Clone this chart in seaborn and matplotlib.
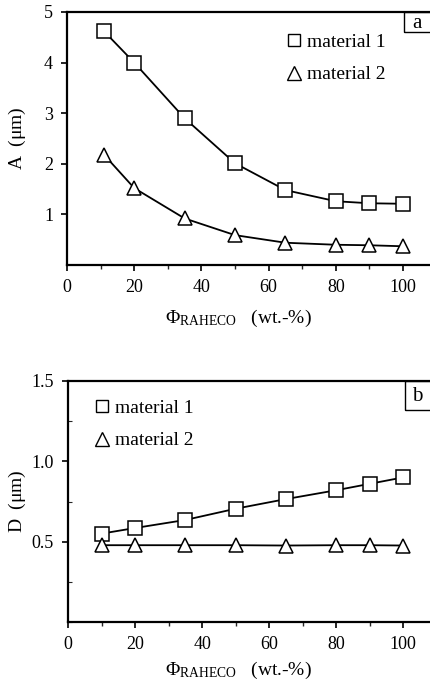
import matplotlib
matplotlib.use("Agg")
import matplotlib.pyplot as plt
import seaborn as sns
import pandas as pd
from matplotlib.lines import Line2D
from matplotlib.patches import Rectangle
from matplotlib.ticker import MultipleLocator, FixedLocator

# ---- data ----
phi_a = [11, 20, 35, 50, 65, 80, 90, 100]
A_mat1 = [4.62, 4.00, 2.90, 2.01, 1.48, 1.26, 1.22, 1.21]
A_mat2 = [2.18, 1.52, 0.92, 0.59, 0.44, 0.40, 0.39, 0.37]

phi_b = [10, 20, 35, 50, 65, 80, 90, 100]
D_mat1 = [0.55, 0.585, 0.635, 0.705, 0.765, 0.82, 0.86, 0.90]
D_mat2 = [0.478, 0.478, 0.478, 0.478, 0.476, 0.478, 0.478, 0.476]

series_labels = ["material 1", "material 2"]
xticks = [0, 20, 40, 60, 80, 100]
yticks_a = [1, 2, 3, 4, 5]
yticks_b = [0.5, 1.0, 1.5]

sns.set_theme(style="white")
plt.rcParams["font.family"] = ["Liberation Serif", "DejaVu Serif"]
plt.rcParams["mathtext.fontset"] = "custom"
plt.rcParams["mathtext.rm"] = "Liberation Serif"
plt.rcParams["mathtext.it"] = "Liberation Serif:italic"

W, H = 431, 684
fig = plt.figure(figsize=(W / 100, H / 100), dpi=100)

def px_axes(l, t, r, b):
    return fig.add_axes([l / W, 1 - b / H, (r - l) / W, (b - t) / H])

ax_a = px_axes(67, 12, 431, 265)
ax_b = px_axes(68, 381, 431, 622)

mk = dict(markersize=9.5, markerfacecolor="white", markeredgecolor="black",
          markeredgewidth=1.1, color="black", linewidth=1.3)

def draw(ax, x, y1, y2):
    df1 = pd.DataFrame({"x": x, "y": y1})
    df2 = pd.DataFrame({"x": x, "y": y2})
    sns.lineplot(data=df1, x="x", y="y", ax=ax, marker="s", **mk)
    sns.lineplot(data=df2, x="x", y="y", ax=ax, marker="^", **mk)

draw(ax_a, phi_a, A_mat1, A_mat2)
draw(ax_b, phi_b, D_mat1, D_mat2)

xlabel = r"$\Phi_{\mathrm{RAHECO}}$   (wt.-%)"

def style(ax, ylim, yticks, ylabel, ylabels, ylab_x, xlab_y):
    ax.set_xlim(0, 108.3)
    ax.set_ylim(*ylim)
    ax.xaxis.set_major_locator(FixedLocator(xticks))
    ax.xaxis.set_minor_locator(MultipleLocator(10))
    ax.set_yticks(yticks)
    ax.set_yticklabels(ylabels)
    ax.set_xticklabels([str(t) for t in xticks])
    for s in ["left", "bottom", "top"]:
        ax.spines[s].set_visible(True)
        ax.spines[s].set_color("black")
        ax.spines[s].set_linewidth(1.6)
    ax.spines["right"].set_visible(False)
    ax.tick_params(axis="both", which="major", direction="out", length=4,
                   width=1.2, color="black", labelsize=13, labelcolor="black", pad=6,
                   bottom=True, left=True, top=False, right=False)
    ax.tick_params(axis="x", which="minor", direction="out", length=3, width=1.0,
                   bottom=True, top=False)
    ax.set_xlabel(xlabel, fontsize=14, color="black")
    ax.set_ylabel(ylabel, fontsize=14, color="black")
    ax.yaxis.set_label_coords(ylab_x, 0.5)
    ax.xaxis.set_label_coords(0.47, xlab_y)
    ax.xaxis.label.set_va("center")
    ax.yaxis.label.set_va("center")
    ax.grid(False)

style(ax_a, (0, 5), yticks_a, r"A  ($\mathrm{\mu}$m)", [str(t) for t in yticks_a],
      -0.135, -0.21)
style(ax_b, (0, 1.5), yticks_b, r"D  ($\mathrm{\mu}$m)", ["0.5", "1.0", "1.5"],
      -0.138, -0.20)
ax_b.yaxis.set_minor_locator(MultipleLocator(0.25))
ax_b.tick_params(axis="y", which="minor", direction="in", length=3, width=0.8, left=True)

def legend(ax, loc):
    handles = [
        Line2D([], [], linestyle="none", marker="s", markersize=8.5,
               markerfacecolor="white", markeredgecolor="black", markeredgewidth=1.0),
        Line2D([], [], linestyle="none", marker="^", markersize=9.5,
               markerfacecolor="white", markeredgecolor="black", markeredgewidth=1.0),
    ]
    lg = ax.legend(handles, series_labels, loc="upper left", bbox_to_anchor=loc,
                   frameon=False, fontsize=14, handlelength=0.6, handletextpad=0.4,
                   labelspacing=0.75, borderaxespad=0)
    for t in lg.get_texts():
        t.set_color("black")

legend(ax_a, (0.585, 0.945))
legend(ax_b, (0.055, 0.955))

def panel_box(ax, letter, x0, y0, h, ty):
    ax.add_patch(Rectangle((x0, y0), 0.2, h, transform=ax.transAxes, fill=False,
                           edgecolor="black", linewidth=1.0, clip_on=False))
    ax.text(x0 + 0.035, ty, letter, transform=ax.transAxes, fontsize=15,
            ha="center", va="center", color="black")

panel_box(ax_a, "a", 0.926, 0.921, 0.079, 0.955)
panel_box(ax_b, "b", 0.928, 0.880, 0.12, 0.935)

fig.savefig("out.png", dpi=100, facecolor="white")
